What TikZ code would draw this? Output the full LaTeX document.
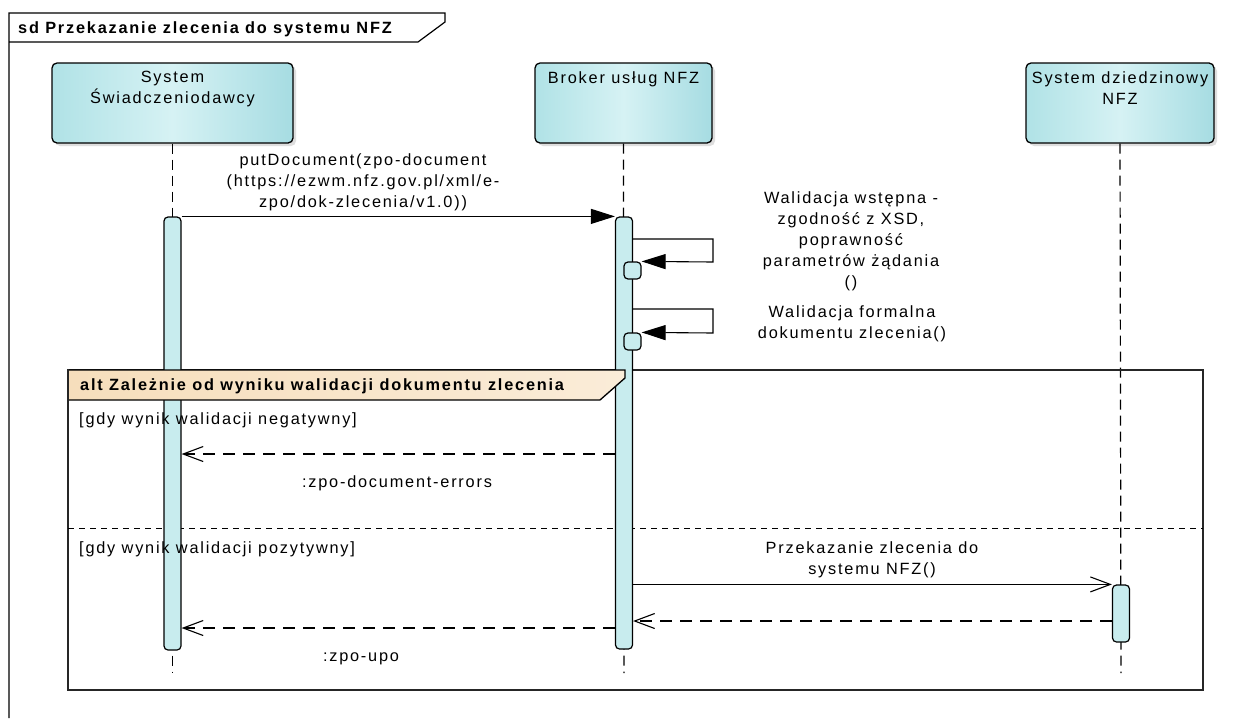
\documentclass[tikz,border=0pt]{standalone}
\usepackage{fontspec}
\setmainfont{Liberation Sans}[LetterSpace=11]
\usetikzlibrary{arrows.meta,shadows,calc}
\definecolor{tealA}{RGB}{176,226,230}
\definecolor{tealB}{RGB}{214,242,244}
\definecolor{tealC}{RGB}{166,220,226}
\definecolor{barfill}{RGB}{200,236,238}
\definecolor{tabA}{RGB}{246,222,188}
\definecolor{tabB}{RGB}{250,236,216}
\begin{document}
\begin{tikzpicture}[x=1pt,y=-1pt,
  font=\fontsize{16.3}{21}\selectfont,
  head/.style={draw=black, line width=1.3pt, rounded corners=5pt,
    left color=tealA, right color=tealC, middle color=tealB,
    drop shadow={shadow xshift=3pt, shadow yshift=-3pt, fill=black!25},
    inner sep=0pt},
  headtxt/.style={align=center, inner sep=0pt},
  actbar/.style={draw=black, line width=1.2pt, rounded corners=4pt, fill=barfill,
    minimum width=17pt, inner sep=0pt},
  life/.style={line width=1.2pt, dash pattern=on 10pt off 6pt},
  sync/.style={line width=1.1pt, -{Triangle[length=24pt,width=15pt]}},
  call/.style={line width=1.1pt, -{Straight Barb[length=20pt,width=15pt]}},
  ret/.style={line width=1.1pt, dash pattern=on 12pt off 8pt, -{Straight Barb[length=20pt,width=15pt]}},
  lbl/.style={align=center, inner sep=0pt},
  guard/.style={anchor=west, inner sep=0pt},
  boldtxt/.style={anchor=west, inner sep=0pt, font=\fontsize{16.3}{21}\selectfont\bfseries},
]
\useasboundingbox (0,0) rectangle (1247,718);
\fill[white] (0,0) rectangle (1247,718);

% outer frame
\draw[line width=1.2pt] (9,718) -- (9,13) -- (445,13) -- (445,22) -- (418,42) -- (9,42);
\node[boldtxt] (title) at (18,29) {sd Przekazanie zlecenia do systemu NFZ};

% lifeline heads
\node[head, minimum width=241pt, minimum height=80pt] (hL) at (172.5,103) {};
\node[head, minimum width=177pt, minimum height=80pt] (hB) at (623.5,103) {};
\node[head, minimum width=188pt, minimum height=80pt] (hD) at (1120,103) {};
\node[headtxt, anchor=north] (hLt) at ([yshift=-9pt]hL.north) {System\\Świadczeniodawcy};
\node[headtxt, anchor=north] (hBt) at ([yshift=-9pt]hB.north) {Broker usług NFZ};
\node[headtxt, anchor=north] (hDt) at ([yshift=-9pt]hD.north) {System dziedzinowy\\NFZ};

% lifeline ends
\coordinate (eL) at (172.5,673);
\coordinate (eB) at (624,673);
\coordinate (eD) at (1121,673);
\draw[life] (hL.south) -- (eL);
\draw[life] (hB.south) -- (eB);
\draw[life] (hD.south) -- (eD);

% alt frame
\draw[line width=1.8pt, draw=black!85] (68,370) rectangle (1203,690);
\draw[line width=1pt, dash pattern=on 6pt off 5pt] (68,528) -- (1203,528);

% activation bars
\node[actbar, minimum height=433pt] (bL) at (172.5,433.5) {};
\node[actbar, minimum height=432pt] (bB) at (624,433) {};
\node[actbar, minimum height=57pt] (bD) at (1121,613.5) {};
\node[actbar, minimum height=17pt, minimum width=17pt] (s1) at (632.5,270.5) {};
\node[actbar, minimum height=17pt, minimum width=17pt] (s2) at (632.5,341.5) {};

% alt tab (over the bars)
\path[left color=tabA, right color=tabB, shading angle=90] (68,370) -- (625,370) -- (625,378) -- (600,400) -- (68,400) -- cycle;
\draw[line width=1.3pt] (68,370) -- (625,370) -- (625,378) -- (600,400) -- (68,400);
\draw[line width=1.8pt, draw=black!85] (68,369) -- (68,401);
\node[boldtxt] (alttxt) at (80,386) {alt Zależnie od wyniku walidacji dokumentu zlecenia};

% putDocument
\draw[sync] (bL.north east) -- (bB.north west);
\node[lbl] (m1) at (363,182) {putDocument(zpo-document\\(https://ezwm.nfz.gov.pl/xml/e-\\zpo/dok-zlecenia/v1.0))};

% self calls
\coordinate (c1a) at (713,239);
\coordinate (c1b) at (713,262);
\draw[sync] (bB.east |- c1a) -- (c1a) -- (c1b) -- (s1.north east);
\node[lbl] (m2) at (851,241) {Walidacja wstępna -\\zgodność z XSD,\\poprawność\\parametrów żądania\\()};
\coordinate (c2a) at (713,309);
\coordinate (c2b) at (713,333);
\draw[sync] (bB.east |- c2a) -- (c2a) -- (c2b) -- (s2.north east);
\node[lbl] (m3) at (852,324) {Walidacja formalna\\dokumentu zlecenia()};

% guards
\node[guard] (g1) at (79,420) {[gdy wynik walidacji negatywny]};
\node[guard] (g2) at (79,549) {[gdy wynik walidacji pozytywny]};

% negative
\coordinate (r1) at (0,454);
\draw[ret] (bB.west |- r1) -- (bL.east |- r1);
\node[lbl] (m4) at (397,483) {:zpo-document-errors};

% positive
\draw[call] (bB.east |- bD.north) -- (bD.north west);
\node[lbl] (m5) at (872,560) {Przekazanie zlecenia do\\systemu NFZ()};
\coordinate (r2) at (0,621);
\draw[ret] (bD.west |- r2) -- (bB.east |- r2);
\coordinate (r3) at (0,628);
\draw[ret] (bB.west |- r3) -- (bL.east |- r3);
\node[lbl] (m6) at (361,659) {:zpo-upo};
\end{tikzpicture}
\end{document}
